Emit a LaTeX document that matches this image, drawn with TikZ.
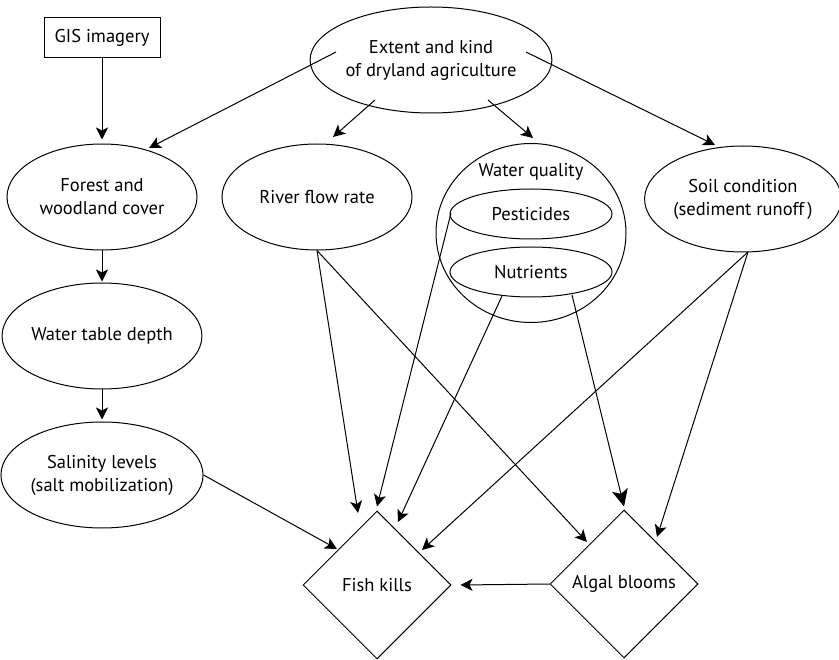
\documentclass[tikz,border=0pt]{standalone}
\usepackage{fontspec}
\setmainfont{PT Sans}
\usetikzlibrary{shapes.geometric,arrows.meta,calc}
\begin{document}
\begin{tikzpicture}[x=1pt,y=-1pt,
  line width=1pt,
  font=\fontsize{18.5}{23}\selectfont,
  oval/.style={draw,ellipse,inner sep=0pt,minimum width=190pt,minimum height=106pt,align=center},
  inner/.style={draw,ellipse,inner sep=0pt,minimum width=162pt,minimum height=50pt},
  outcome/.style={draw,diamond,inner sep=0pt,minimum width=148pt,minimum height=148pt,aspect=1},
  srcbox/.style={draw,rectangle,minimum width=116pt,minimum height=40pt,inner sep=0pt},
  arr/.style={-{Stealth[length=12pt,width=12pt,inset=3pt]}},
  bigarr/.style={-{Stealth[length=17pt,width=16pt,inset=4pt]}}]
\useasboundingbox (0,0) rectangle (839,660);

% nodes
\node[srcbox] (gis) at (102,38) {GIS imagery};
\node[oval] (ext) at (431,60) {Extent and kind\\of dryland agriculture};
\node[oval] (forest) at (102,197) {Forest and\\woodland cover};
\node[oval] (river) at (317,197) {River flow rate};
\node[draw,ellipse,inner sep=0pt,minimum width=190pt,minimum height=179pt] (wq) at (531,233) {};
\node (wqtext) at (531,172) {Water quality};
\node[inner] (pest) at (531,214) {Pesticides};
\node[inner] (nutr) at (531,272) {Nutrients};
\node[oval] (soil) at (743,199) {Soil condition\\(sediment runoff\,)};
\node[oval] (wtd) at (102,336) {Water table depth};
\node[oval] (sal) at (102,475) {Salinity levels\\(salt mobilization)};
\node[outcome] (fish) at (377,585) {Fish kills};
\node[outcome] (algal) at (624,584) {Algal blooms};

% connectors
\draw[arr] (gis.south) -- ($(forest.north)+(0,-4)$);
\draw[arr] ($(ext)+(-95,-8)$) -- ($(forest)+(47,-49)$);
\draw[arr] ($(ext)+(-56,40)$) -- ($(river)+(16,-60)$);
\draw[arr] ($(ext)+(57,40)$) -- ($(wq)+(2,-95)$);
\draw[arr] ($(ext)+(95,-8)$) -- ($(soil)+(-28,-54)$);
\draw[arr] (forest.south) -- ($(wtd.north)+(0,-1)$);
\draw[arr] (wtd.south) -- ($(sal.north)+(0,-2)$);
\draw[arr] (sal.east) -- ($(fish)+(-40,-36)$);
\draw[arr] (river.south) -- ($(fish)+(-19,-72)$);
\draw[arr] (river.south) -- ($(algal)+(-37,-42)$);
\draw[arr] ($(pest)+(-80,-1)$) -- ($(fish.north)+(0,-4)$);
\draw[arr] ($(nutr)+(-29,24)$) -- ($(fish)+(21,-63)$);
\draw[bigarr] ($(nutr)+(41,23)$) -- ($(algal.north)+(0,-3)$);
\draw[arr] ($(soil)+(5,53)$) -- ($(fish)+(45,-35)$);
\draw[arr] ($(soil)+(5,53)$) -- ($(algal)+(33,-47)$);
\draw[arr] (algal.west) -- ($(fish.east)+(9,0)$);
\end{tikzpicture}
\end{document}
